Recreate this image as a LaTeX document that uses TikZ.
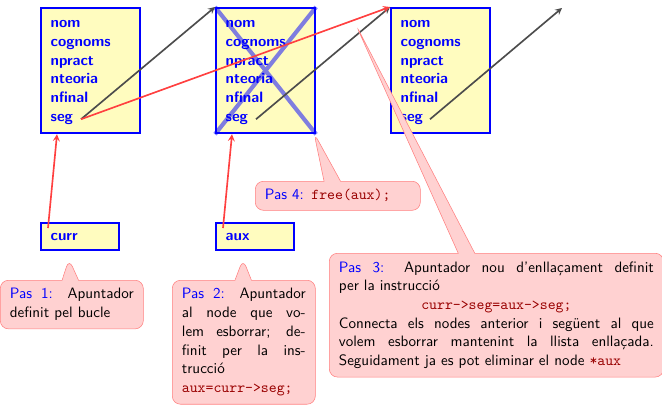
\documentclass[tikz,border=0pt]{standalone}
\usepackage{tikz}
\usetikzlibrary{shapes.callouts,calc}
\renewcommand{\familydefault}{\sfdefault}

\newcommand{\pasnum}[1]{\textcolor{blue}{Pas #1:}}
\newcommand{\codi}[1]{\textcolor{red!60!black}{\texttt{#1}}}

\tikzset{
  record/.style={draw=blue, line width=1.5pt, fill=yellow!25, text=blue, font=\bfseries,
    align=left, text width=58pt, inner xsep=7pt, minimum height=91pt, anchor=north west},
  ptrbox/.style={draw=blue, line width=1.5pt, fill=yellow!25, text=blue, font=\bfseries,
    align=left, text width=43pt, inner xsep=7pt, minimum height=19.6pt, anchor=north west},
  link/.style={->, >=stealth, line width=1.2pt, black!70},
  newlink/.style={->, >=stealth, line width=1.2pt, red!75},
  pas/.style={rectangle callout, draw=red!50, fill=red!18, rounded corners=6pt,
    callout pointer width=12pt, inner xsep=7pt, inner ysep=6pt, align=justify, anchor=north west}
}

\begin{document}
\fontsize{10.95}{13.6}\selectfont\sffamily
\begin{tikzpicture}[x=0.727pt, y=-0.727pt]
\useasboundingbox (0,0) rectangle (662,405);
% nodes de la llista
\node[record] (rec1) at (40,7) {\strut nom\\cognoms\\npract\\nteoria\\nfinal\\seg\strut};
\node[record] (rec2) at (215,7) {\strut nom\\cognoms\\npract\\nteoria\\nfinal\\seg\strut};
\node[record] (rec3) at (390,7) {\strut nom\\cognoms\\npract\\nteoria\\nfinal\\seg\strut};
\node[ptrbox] (curr) at (40,222) {curr};
\node[ptrbox] (aux) at (215,222) {aux};
\coordinate (seg1) at ($(rec1.south west)+(41,-15)$);
\coordinate (seg2) at ($(rec2.south west)+(41,-15)$);
\coordinate (seg3) at ($(rec3.south west)+(40,-15)$);
\coordinate (fin) at (562,8);
\coordinate (currp) at ($(curr.north west)+(8,6)$);
\coordinate (auxp) at ($(aux.north west)+(8,6)$);
\coordinate (rec1p) at ($(rec1.south west)+(17,0)$);
\coordinate (rec2p) at ($(rec2.south west)+(17,0)$);
% node esborrat
\draw[blue, opacity=0.5, line width=3pt] (rec2.north west) -- (rec2.south east)
  (rec2.north east) -- (rec2.south west);
% apuntadors
\draw[link] (seg1) -- (rec2.north west);
\draw[link] (seg2) -- (rec3.north west);
\draw[link] (seg3) -- (fin);
\draw[newlink] (seg1) -- (rec3.north west);
\draw[newlink] (currp) -- (rec1p);
\draw[newlink] (auxp) -- (rec2p);
% explicacions
\node[pas, text width=90pt, callout absolute pointer={(69,259)}] (pas1) at (0,280)
  {\pasnum{1} Apuntador\linebreak definit pel bucle};
\node[pas, text width=90pt, callout absolute pointer={(243,259)}] (pas2) at (172,280)
  {\pasnum{2} Apuntador\linebreak al node que vo-\linebreak lem esborrar; de-\linebreak
   finit per la ins-\linebreak trucció\\ \codi{aux=curr->seg;}};
\node[pas, text width=106pt, align=left, callout absolute pointer={(314,133)}] (pas4) at (255,181)
  {\pasnum{4} \codi{free(aux);}};
\node[pas, text width=229pt, callout absolute pointer={(356,25)}] (pas3) at (329,253)
  {\pasnum{3} Apuntador nou d'enllaçament definit\linebreak per la instrucció\\
   \hspace*{\fill}\codi{curr->seg=aux->seg;}\hspace*{\fill}\\
   Connecta els nodes anterior i següent al que\linebreak volem esborrar mantenint la llista enllaçada.\linebreak
   Seguidament ja es pot eliminar el node \codi{*aux}};
\end{tikzpicture}
\end{document}
